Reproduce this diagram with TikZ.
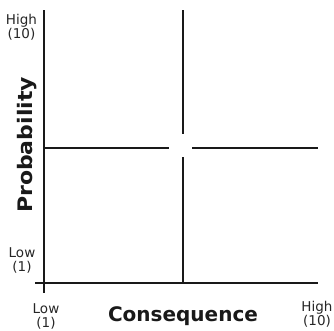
\documentclass[tikz,border=0pt]{standalone}
\usepackage{fontspec}
\setmainfont{DejaVu Sans}
\begin{document}
\begin{tikzpicture}[x=1pt,y=-1pt,
  axis/.style={line width=2pt,black!90},
  small/.style={font=\fontsize{13.5}{14}\selectfont,align=center,inner sep=0pt,anchor=north,text=black!85},
  big/.style={font=\fontsize{20}{20}\selectfont\bfseries,inner sep=0pt,anchor=base,text=black!90}]
\useasboundingbox (0,0) rectangle (334,330);
\coordinate (ytop) at (44,10);
\coordinate (ybot) at (44,293);
\coordinate (xl) at (35,283);
\coordinate (xr) at (318,283);
\coordinate (vt) at (182.5,10);
\coordinate (vg1) at (182.5,134);
\coordinate (vg2) at (182.5,157);
\coordinate (vb) at (182.5,283);
\coordinate (hl) at (44,148);
\coordinate (hg1) at (169,148);
\coordinate (hg2) at (192,148);
\coordinate (hr) at (318,148);
\draw[axis] (ytop) -- (ybot);
\draw[axis] (xl) -- (xr);
\draw[axis] (vt) -- (vg1);
\draw[axis] (vg2) -- (vb);
\draw[axis] (hl) -- (hg1);
\draw[axis] (hg2) -- (hr);
\node[small] (hy) at (21.5,14.5) {High\\(10)};
\node[small] (ly) at (22,247) {Low\\(1)};
\node[small] (lx) at (46,303) {Low\\(1)};
\node[small] (hx) at (317,301.5) {High\\(10)};
\node[big] (cons) at (183,321) {Consequence};
\node[big,rotate=90,xscale=1.1] (prob) at (32,145) {Probability};
\end{tikzpicture}
\end{document}
